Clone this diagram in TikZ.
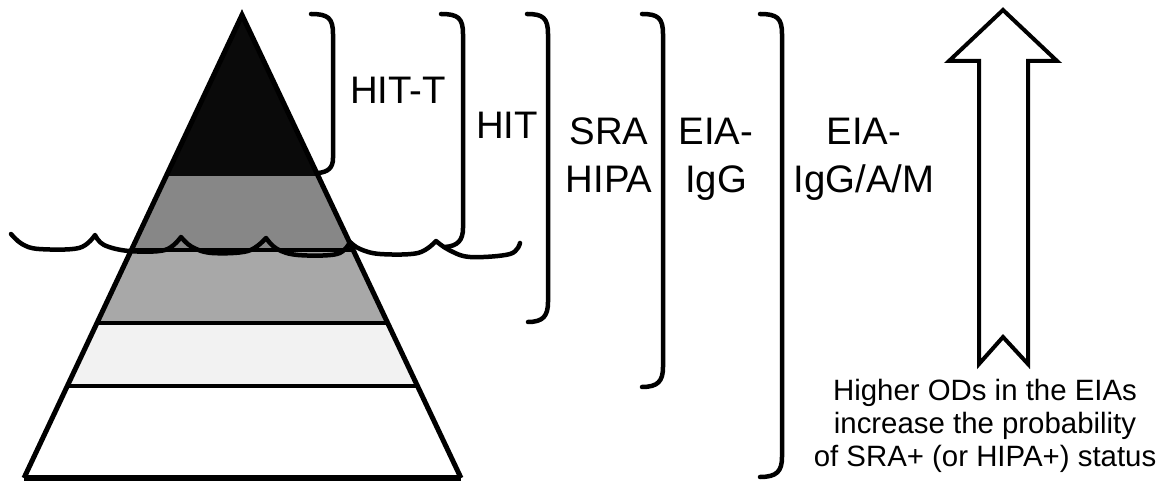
\documentclass[tikz,border=0pt]{standalone}
\usepackage{fontspec}
\setmainfont{Liberation Sans}
\begin{document}
\begin{tikzpicture}[x=1bp,y=-1bp,
  outline/.style={line width=5bp,line join=miter},
  bandline/.style={line width=4bp},
  brk/.style={line width=4.5bp,line cap=round},
  wave/.style={line width=4.5bp,line join=round,line cap=round},
  lbl/.style={inner sep=0pt,anchor=north,align=center,font=\fontsize{38.5}{48}\selectfont},
  note/.style={inner sep=0pt,anchor=north,align=center,font=\fontsize{29.5}{33}\selectfont}]
\useasboundingbox (0,0) rectangle (1170,483);
% pyramid
\coordinate (A) at (242,15);
\coordinate (BL) at (24,478);
\coordinate (BR) at (461,478);
\begin{scope}
  \clip (A) -- (BL) -- (BR) -- cycle;
  \fill[white] (0,0) rectangle (500,483);
  \fill[black!96] (0,0) rectangle (500,176);
  \fill[black!47] (0,176) rectangle (500,250);
  \fill[black!34] (0,250) rectangle (500,323);
  \fill[black!5] (0,323) rectangle (500,386);
  \draw[bandline] (0,250) -- (500,250);
  \draw[bandline] (0,323) -- (500,323);
  \draw[bandline] (0,386) -- (500,386);
\end{scope}
\draw[outline] (BL) -- (A) -- (BR);
\draw[line width=6bp] (BL) -- (BR);
% wave line
\draw[wave] plot[smooth,tension=0.6] coordinates {(11,234) (22,244) (39,249) (79,248) (95,235)}
  -- plot[smooth,tension=0.6] coordinates {(95,235) (104,245) (129,251) (165,250) (181,237)}
  -- plot[smooth,tension=0.6] coordinates {(181,237) (192,247) (212,253) (248,251) (266,238)}
  -- plot[smooth,tension=0.6] coordinates {(266,238) (277,249) (298,255) (337,254) (350,242)}
  -- plot[smooth,tension=0.6] coordinates {(350,242) (360,249) (380,254) (418,253) (436,241)}
  -- plot[smooth,tension=0.6] coordinates {(436,241) (449,250) (470,257) (510,254) (520,243)};
% brackets
\draw[brk] (311,14) .. controls (328,14) and (333,18) .. (333,34) -- (333,158) .. controls (333,168) and (328,172) .. (318,173);
\draw[brk] (441,14) .. controls (458,14) and (463,18) .. (463,34) -- (463,228) .. controls (463,240) and (458,246) .. (445,247);
\draw[brk] (527,14) .. controls (543,14) and (548,18) .. (548,34) -- (548,302) .. controls (548,316) and (543,322) .. (528,322);
\draw[brk] (642,14) .. controls (658,14) and (663,18) .. (663,34) -- (663,367) .. controls (663,381) and (658,387) .. (642,387);
\draw[brk] (760,14) .. controls (777,14) and (782,18) .. (782,34) -- (782,457) .. controls (782,471) and (777,477) .. (760,477);
% labels
\node[lbl] (hitt) at (398,77) {HIT-T};
\node[lbl] (hit) at (507,112) {HIT};
\node[lbl] (sra) at (609,118) {SRA\\HIPA};
\node[lbl] (eiag) at (716,118) {EIA-\\IgG};
\node[lbl] (eiagam) at (864,118) {EIA-\\IgG/A/M};
% arrow
\draw[line width=4bp,line join=miter,fill=white] (1003,10) -- (1057,61) -- (1028,61) -- (1028,364) -- (1003,337) -- (979,364) -- (979,61) -- (949,61) -- cycle;
\node[note] (txt) at (985,379) {Higher ODs in the EIAs\\increase the probability\\of SRA+ (or HIPA+) status};
\end{tikzpicture}
\end{document}
